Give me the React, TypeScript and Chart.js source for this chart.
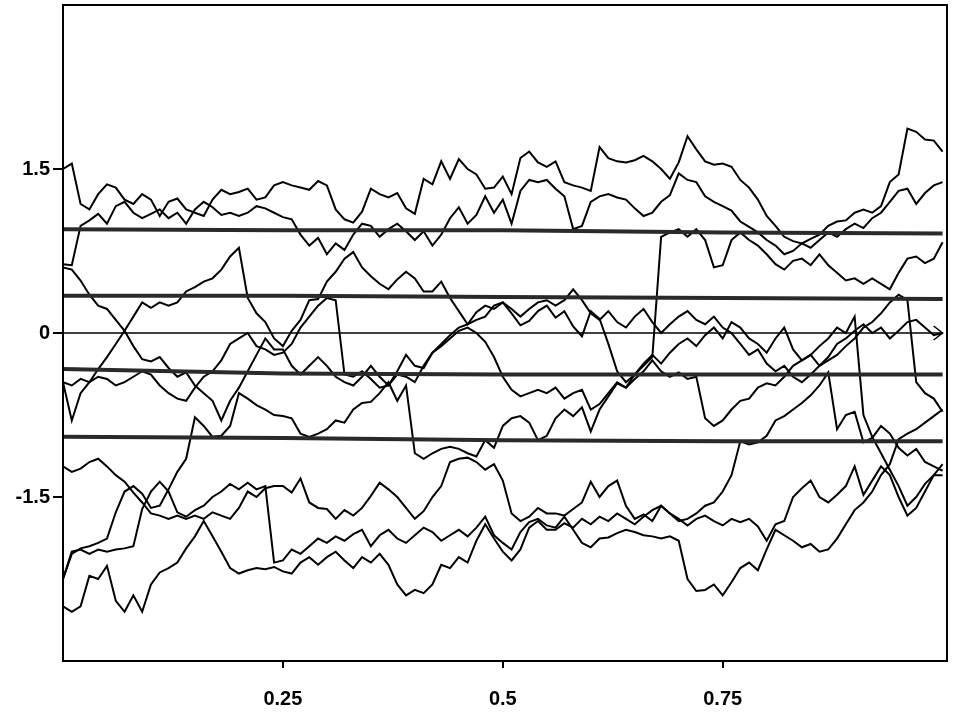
import React, { useEffect, useRef } from "react";
import { Chart, registerables } from "chart.js";
Chart.register(...registerables);

// sample times of the paths (t = 0 .. 1, step 0.01)
const T: number[] = Array.from({ length: 101 }, (_, i) => i / 100);

const xTicks = [0.25, 0.5, 0.75];
const yTicks = [-1.5, 0, 1.5];

// thick reference levels
const BAND_T = [0, 0.25, 0.5, 0.75, 1.0];
const BAND_A = [0.95, 0.94, 0.94, 0.92, 0.91];
const BAND_B = [0.34, 0.34, 0.33, 0.32, 0.31];
const BAND_C = [-0.33, -0.37, -0.38, -0.38, -0.38];
const BAND_D = [-0.95, -0.96, -0.98, -0.99, -0.99];
const ZERO_T = [0, 1.0];
const ZERO_V = [0, 0];

const P1 = [
  1.50,1.55,1.18,1.13,1.27,1.36,1.33,1.22,1.18,1.27,
  1.22,1.07,1.20,1.23,1.13,1.10,1.07,1.22,1.31,1.27,
  1.29,1.32,1.22,1.24,1.35,1.38,1.35,1.33,1.31,1.39,
  1.35,1.13,1.04,1.01,1.11,1.32,1.27,1.24,1.28,1.14,
  1.09,1.41,1.36,1.57,1.41,1.59,1.50,1.45,1.32,1.33,
  1.43,1.27,1.60,1.66,1.56,1.52,1.57,1.38,1.35,1.33,
  1.30,1.70,1.60,1.57,1.56,1.58,1.62,1.57,1.50,1.41,
  1.56,1.80,1.68,1.57,1.54,1.55,1.52,1.40,1.33,1.22,
  1.07,0.98,0.88,0.84,0.82,0.86,0.90,0.98,1.02,1.03,
  1.10,1.13,1.10,1.16,1.38,1.45,1.87,1.84,1.77,1.76,
  1.66,
];
const P2 = [
  0.63,0.62,0.98,1.03,1.09,1.00,1.16,1.20,1.10,1.05,
  1.09,1.13,1.05,1.10,1.00,1.13,1.20,1.15,1.08,1.10,
  1.07,1.10,1.16,1.14,1.10,1.06,1.04,0.90,0.80,0.87,
  0.72,0.82,0.76,0.90,1.00,0.98,0.88,0.95,1.00,0.93,
  0.85,0.93,0.80,0.90,1.05,1.15,1.00,1.08,1.25,1.10,
  1.22,1.00,1.30,1.40,1.38,1.40,1.32,1.25,0.95,0.98,
  1.20,1.25,1.27,1.24,1.22,1.14,1.07,1.10,1.20,1.26,
  1.46,1.40,1.38,1.25,1.20,1.16,1.12,1.02,0.97,0.92,
  0.85,0.80,0.72,0.75,0.82,0.78,0.85,0.92,0.88,0.95,
  1.00,0.96,1.05,1.10,1.20,1.30,1.32,1.18,1.28,1.35,
  1.38,
];
const P3 = [
  0.60,0.58,0.48,0.35,0.25,0.22,0.12,0.02,-0.12,-0.24,
  -0.26,-0.22,-0.32,-0.40,-0.36,-0.48,-0.55,-0.62,-0.80,-0.62,
  -0.50,-0.35,-0.20,-0.05,-0.15,-0.15,-0.30,-0.38,-0.30,-0.22,
  -0.30,-0.40,-0.45,-0.48,-0.40,-0.30,-0.40,-0.48,-0.35,-0.20,
  -0.30,-0.32,-0.18,-0.12,-0.05,0.02,0.05,0.00,-0.08,-0.22,
  -0.40,-0.52,-0.58,-0.55,-0.52,-0.55,-0.50,-0.60,-0.55,-0.52,
  -0.70,-0.65,-0.55,-0.45,-0.50,-0.38,-0.28,-0.20,-0.28,-0.18,
  -0.10,-0.05,-0.12,-0.02,0.05,-0.05,0.10,0.05,-0.05,-0.10,
  -0.18,-0.05,0.05,-0.15,-0.25,-0.20,-0.30,-0.22,-0.10,-0.05,
  0.02,0.08,0.00,0.05,-0.05,0.02,0.10,0.12,0.05,-0.02,
  0.00,
];
const P4 = [
  -0.45,-0.80,-0.55,-0.45,-0.33,-0.22,-0.10,0.02,0.15,0.28,
  0.23,0.28,0.25,0.28,0.38,0.42,0.47,0.50,0.58,0.70,
  0.78,0.32,0.18,0.10,-0.05,-0.12,0.02,0.12,0.30,0.31,
  0.47,0.56,0.68,0.74,0.60,0.52,0.45,0.40,0.49,0.56,
  0.50,0.38,0.38,0.47,0.32,0.20,0.08,0.19,0.25,0.22,
  0.28,0.18,0.07,0.11,0.20,0.25,0.14,0.20,0.06,-0.03,
  0.20,0.13,-0.10,-0.35,-0.45,-0.38,-0.30,-0.22,0.88,0.92,
  0.95,0.88,0.95,0.85,0.60,0.62,0.85,0.92,0.85,0.80,
  0.72,0.63,0.58,0.66,0.68,0.62,0.72,0.62,0.55,0.48,
  0.50,0.45,0.50,0.45,0.40,0.55,0.68,0.70,0.64,0.68,
  0.83,
];
const P5 = [
  -1.22,-1.27,-1.24,-1.18,-1.15,-1.22,-1.30,-1.36,-1.46,-1.55,
  -1.65,-1.67,-1.70,-1.67,-1.70,-1.67,-1.70,-1.64,-1.67,-1.70,
  -1.60,-1.45,-1.50,-1.42,-1.40,-1.40,-1.46,-1.33,-1.55,-1.60,
  -1.61,-1.70,-1.62,-1.67,-1.60,-1.49,-1.37,-1.43,-1.50,-1.60,
  -1.70,-1.63,-1.50,-1.40,-1.18,-1.15,-1.14,-1.18,-1.25,-1.20,
  -1.35,-1.65,-1.72,-1.68,-1.60,-1.65,-1.65,-1.67,-1.61,-1.55,
  -1.36,-1.50,-1.40,-1.35,-1.58,-1.70,-1.66,-1.72,-1.58,-1.65,
  -1.72,-1.70,-1.65,-1.58,-1.55,-1.45,-1.30,-0.99,-1.02,-1.00,
  -0.94,-0.80,-0.76,-0.70,-0.64,-0.57,-0.48,-0.36,-0.88,-0.75,
  -0.72,-1.00,-0.96,-0.85,-0.92,-1.05,-1.12,-1.06,-1.18,-1.22,
  -1.26,
];
const P6 = [
  -2.25,-2.02,-1.97,-1.95,-1.92,-1.88,-1.64,-1.45,-1.40,-1.47,
  -1.60,-1.58,-1.43,-1.27,-1.15,-0.77,-0.85,-0.95,-0.94,-0.85,
  -0.55,-0.60,-0.66,-0.70,-0.75,-0.76,-0.78,-0.92,-0.95,-0.92,
  -0.88,-0.80,-0.82,-0.70,-0.64,-0.63,-0.55,-0.45,-0.62,-0.48,
  -1.10,-1.15,-1.10,-1.06,-1.04,-1.06,-1.10,-1.13,-0.98,-1.05,
  -0.85,-0.78,-0.76,-0.82,-0.98,-0.94,-0.78,-0.70,-0.76,-0.68,
  -0.90,-0.70,-0.58,-0.46,-0.50,-0.42,-0.35,-0.25,-0.35,-0.40,
  -0.36,-0.42,-0.40,-0.78,-0.85,-0.80,-0.70,-0.62,-0.60,-0.50,
  -0.46,-0.48,-0.40,-0.30,-0.25,-0.20,-0.12,-0.05,0.05,0.00,
  0.15,-0.75,-0.95,-1.10,-1.25,-1.40,-1.58,-1.50,-1.38,-1.30,
  -1.20,
];
const P7 = [
  -2.25,-2.00,-1.98,-2.02,-1.98,-2.00,-1.98,-1.97,-1.95,-1.61,
  -1.45,-1.36,-1.45,-1.64,-1.68,-1.62,-1.58,-1.50,-1.45,-1.38,
  -1.43,-1.37,-1.43,-1.40,-2.10,-2.08,-1.98,-2.02,-1.95,-1.88,
  -1.92,-1.86,-1.90,-1.84,-1.80,-1.95,-1.85,-1.80,-1.88,-1.92,
  -1.85,-1.78,-1.82,-1.90,-1.85,-1.80,-1.86,-1.78,-1.68,-1.85,
  -1.92,-1.98,-1.82,-1.73,-1.70,-1.76,-1.78,-1.68,-1.80,-1.92,
  -1.96,-1.88,-1.87,-1.83,-1.80,-1.82,-1.85,-1.86,-1.88,-1.86,
  -1.90,-2.25,-2.36,-2.35,-2.30,-2.40,-2.28,-2.15,-2.10,-2.17,
  -1.98,-1.80,-1.85,-1.90,-1.96,-1.93,-2.00,-1.98,-1.88,-1.75,
  -1.62,-1.55,-1.45,-1.30,-1.20,-0.97,-0.92,-0.88,-0.82,-0.76,
  -0.70,
];
const P8 = [
  -2.50,-2.55,-2.50,-2.22,-2.25,-2.13,-2.45,-2.55,-2.40,-2.55,
  -2.30,-2.19,-2.15,-2.10,-1.97,-1.86,-1.72,-1.86,-2.00,-2.15,
  -2.20,-2.17,-2.15,-2.16,-2.14,-2.18,-2.20,-2.10,-2.05,-2.12,
  -2.05,-2.00,-2.08,-2.15,-2.05,-2.10,-2.02,-2.12,-2.30,-2.40,
  -2.35,-2.38,-2.30,-2.12,-2.15,-2.05,-2.10,-1.90,-1.75,-1.88,
  -2.00,-2.08,-1.98,-1.78,-1.72,-1.80,-1.80,-1.74,-1.78,-1.70,
  -1.75,-1.68,-1.72,-1.65,-1.70,-1.75,-1.68,-1.62,-1.58,-1.65,
  -1.70,-1.76,-1.70,-1.67,-1.72,-1.76,-1.70,-1.73,-1.70,-1.77,
  -1.90,-1.75,-1.72,-1.50,-1.42,-1.35,-1.50,-1.55,-1.48,-1.40,
  -1.22,-1.48,-1.35,-1.22,-1.30,-1.50,-1.67,-1.60,-1.45,-1.30,
  -1.30,
];
const P9 = [
  -0.45,-0.48,-0.42,-0.45,-0.40,-0.42,-0.48,-0.45,-0.40,-0.35,
  -0.38,-0.48,-0.55,-0.60,-0.62,-0.50,-0.40,-0.35,-0.25,-0.10,
  -0.05,0.00,-0.12,-0.15,-0.20,-0.18,-0.10,0.05,0.15,0.25,
  0.32,0.30,-0.38,-0.40,-0.35,-0.42,-0.50,-0.48,-0.38,-0.40,
  -0.45,-0.30,-0.18,-0.10,-0.02,0.05,0.08,0.12,0.15,0.25,
  0.28,0.22,0.15,0.22,0.28,0.30,0.25,0.30,0.40,0.30,
  0.18,0.12,0.20,0.10,0.05,0.15,0.22,0.10,0.00,0.08,
  0.15,0.20,0.12,0.08,0.15,0.05,0.00,-0.10,-0.20,-0.15,
  -0.28,-0.35,-0.30,-0.40,-0.45,-0.38,-0.30,-0.25,-0.20,-0.12,
  -0.05,0.05,0.10,0.18,0.28,0.35,0.30,-0.45,-0.55,-0.60,
  -0.72,
];

const PATHS = [P1, P2, P3, P4, P5, P6, P7, P8, P9];
const BANDS = [BAND_A, BAND_B, BAND_C, BAND_D];

const FONT = "'Liberation Sans', Arial, Helvetica, sans-serif";

const framePlugin = {
  id: "frameAndArrow",
  afterDatasetsDraw(chart: any) {
    const { ctx, chartArea, scales } = chart;
    const { left, right, top, bottom } = chartArea;
    ctx.save();
    ctx.strokeStyle = "#000";
    ctx.lineWidth = 2;
    ctx.strokeRect(left, top, right - left, bottom - top);
    const ax = scales.x.getPixelForValue(ZERO_T[1]);
    const ay = scales.y.getPixelForValue(ZERO_V[1]);
    ctx.lineWidth = 1.5;
    ctx.beginPath();
    ctx.moveTo(ax - 9, ay - 7);
    ctx.lineTo(ax, ay);
    ctx.lineTo(ax - 9, ay + 7);
    ctx.stroke();
    ctx.restore();
  },
};

export default function App() {
  const ref = useRef<HTMLCanvasElement | null>(null);
  useEffect(() => {
    if (!ref.current) return;
    const datasets: any[] = [];
    BANDS.forEach((b) => {
      datasets.push({
        data: b.map((v, i) => ({ x: BAND_T[i], y: v })),
        borderColor: "#2a2a2a",
        borderWidth: 4,
        pointRadius: 0,
        tension: 0,
        fill: false,
      });
    });
    datasets.push({
      data: ZERO_V.map((v, i) => ({ x: ZERO_T[i], y: v })),
      borderColor: "#000",
      borderWidth: 1.5,
      pointRadius: 0,
      fill: false,
    });
    PATHS.forEach((p) => {
      datasets.push({
        data: p.map((v, i) => ({ x: T[i], y: v })),
        borderColor: "#000",
        borderWidth: 2,
        pointRadius: 0,
        tension: 0,
        fill: false,
      });
    });
    const chart = new Chart(ref.current, {
      type: "line",
      data: { datasets },
      plugins: [framePlugin],
      options: {
        animation: false,
        responsive: false,
        layout: { padding: { left: 0, right: 10, top: 5, bottom: 0 } },
        plugins: { legend: { display: false }, tooltip: { enabled: false } },
        scales: {
          x: {
            type: "linear",
            min: 0,
            max: 1.005,
            afterBuildTicks: (s: any) => {
              s.ticks = xTicks.map((v) => ({ value: v }));
            },
            afterFit: (s: any) => {
              s.height = 51;
              s.paddingLeft = 0;
              s.paddingRight = 0;
            },
            grid: { drawOnChartArea: false, drawTicks: true, tickLength: 7, color: "#000", lineWidth: 2 },
            border: { display: true, color: "#000", width: 2 },
            ticks: {
              color: "#000",
              font: { family: FONT, size: 20, weight: "bold" },
              padding: 19,
              maxRotation: 0,
              autoSkip: false,
              callback: (v: any) => String(v),
            },
          },
          y: {
            type: "linear",
            min: -3,
            max: 3,
            afterBuildTicks: (s: any) => {
              s.ticks = yTicks.map((v) => ({ value: v }));
            },
            afterFit: (s: any) => {
              s.width = 63;
              s.paddingTop = 0;
              s.paddingBottom = 0;
            },
            grid: { drawOnChartArea: false, drawTicks: true, tickLength: 10, color: "#000", lineWidth: 2 },
            border: { display: true, color: "#000", width: 2 },
            ticks: {
              color: "#000",
              font: { family: FONT, size: 20, weight: "bold" },
              padding: 3,
              autoSkip: false,
              callback: (v: any) => String(v),
            },
          },
        },
      } as any,
    });
    return () => chart.destroy();
  }, []);
  return (
    <div style={{ position: "absolute", left: 0, top: 0, width: 957, height: 712, background: "#fff" }}>
      <canvas ref={ref} width={957} height={712} />
    </div>
  );
}
